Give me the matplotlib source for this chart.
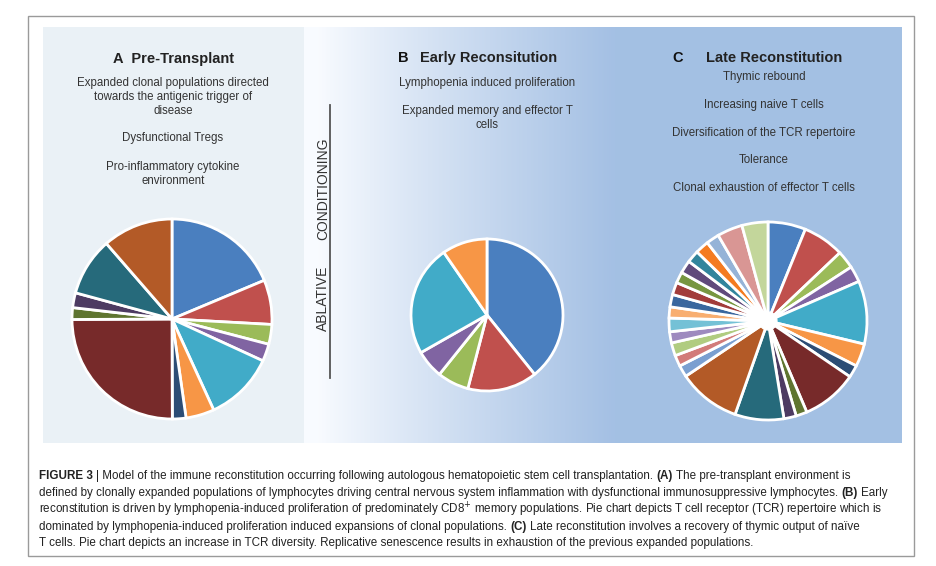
import numpy as np
import matplotlib
matplotlib.use("Agg")
import matplotlib.pyplot as plt
from matplotlib.patches import Rectangle
from matplotlib import font_manager

W, H = 937, 566

# pie data (share of each clone, clockwise from 12 o'clock)
pre_vals = [18.7, 7.2, 3.2, 2.8, 11.3, 4.6, 2.2, 25.0, 1.9, 2.4, 9.4, 11.4]
pre_cols = ['#4a7fbf', '#c0504d', '#9bbb59', '#8064a2', '#41abc8', '#f79646',
            '#2c4d75', '#772a2a', '#5f7530', '#4d3b62', '#266a7b', '#b35a27']

early_vals = [39.2, 14.8, 6.7, 6.0, 23.6, 9.6]
early_cols = ['#4a7fbf', '#c0504d', '#9bbb59', '#8064a2', '#41abc8', '#f79646']

late_vals = [6.1, 6.7, 2.9, 2.6, 10.2, 3.7, 2.0, 9.0, 1.8, 2.0, 7.9, 10.1,
             1.9, 1.8, 2.1, 1.8, 2.2, 1.8, 2.0, 2.0, 1.8, 2.1, 2.0, 2.2,
             2.1, 4.1, 4.2]
late_cols = ['#4a7fbf', '#c0504d', '#9bbb59', '#8064a2', '#41abc8', '#f79646',
             '#2c4d75', '#772a2a', '#5f7530', '#4d3b62', '#266a7b', '#b35a27',
             '#7a9fd0', '#d27b79', '#b0cc80', '#9e8abf', '#74c1d6', '#f8ae70',
             '#3a679e', '#a23c3a', '#779640', '#604a7b', '#31859c', '#f47b20',
             '#95b3d7', '#d99694', '#c3d69b']

pre_lines = ["Expanded clonal populations directed", "towards the antigenic trigger of",
             "disease", "Dysfunctional Tregs", "Pro-inflammatory cytokine", "environment"]
early_lines = ["Lymphopenia induced proliferation", "Expanded memory and effector T", "cells"]
late_lines = ["Thymic rebound", "Increasing naive T cells",
              "Diversification of the TCR repertoire", "Tolerance",
              "Clonal exhaustion of effector T cells"]

caption = [
    [("FIGURE 3", True), ("| Model of the immune reconstitution occurring following autologous hematopoietic stem cell transplantation.", False),
     ("(A)", True), ("The pre-transplant environment is", False)],
    [("defined by clonally expanded populations of lymphocytes driving central nervous system inflammation with dysfunctional immunosuppressive lymphocytes.", False),
     ("(B)", True), ("Early", False)],
    [("reconstitution is driven by lymphopenia-induced proliferation of predominately CD8$^{+}$ memory populations. Pie chart depicts T cell receptor (TCR) repertoire which is", False)],
    [("dominated by lymphopenia-induced proliferation induced expansions of clonal populations.", False),
     ("(C)", True), ("Late reconstitution involves a recovery of thymic output of na\u00efve", False)],
    [("T cells. Pie chart depicts an increase in TCR diversity. Replicative senescence results in exhaustion of the previous expanded populations.", False)],
]

names = {f.name for f in font_manager.fontManager.ttflist}
cap_font = 'Liberation Sans Narrow' if 'Liberation Sans Narrow' in names else 'Liberation Sans'
cap_size = 10.3 if cap_font == 'Liberation Sans Narrow' else 8.4

plt.rcParams['font.family'] = ['Liberation Sans', 'DejaVu Sans']
txt = '#333333'

fig = plt.figure(figsize=(W / 100, H / 100), dpi=100)
fig.patch.set_facecolor('white')
bg = fig.add_axes([0, 0, 1, 1])
bg.set_xlim(0, W)
bg.set_ylim(H, 0)
bg.axis('off')

# panels
bg.add_patch(Rectangle((28, 16), 886, 540, fill=False, edgecolor='#9a9a9a', lw=1.0))
bg.add_patch(Rectangle((43, 27), 261, 416, facecolor='#eaf1f6', edgecolor='none'))
xs = np.linspace(304, 902, 600)
t = np.clip((xs - 318) / (615 - 318), 0, 1) ** 0.9
c0 = np.array([0.975, 0.985, 1.0])
c1 = np.array([0.643, 0.753, 0.894])
grad = (c0[None, :] * (1 - t[:, None]) + c1[None, :] * t[:, None])[None, :, :]
bg.imshow(grad, extent=[304, 902, 443, 27], aspect='auto', interpolation='bilinear', zorder=0.5)
bg.set_xlim(0, W)
bg.set_ylim(H, 0)

# titles
bg.text(173.5, 59, "A  Pre-Transplant", ha='center', va='center', fontsize=10.5, fontweight='bold', color='#222222')
bg.text(398, 58, "B", ha='left', va='center', fontsize=10.5, fontweight='bold', color='#111111')
bg.text(420, 58, "Early Reconsitution", ha='left', va='center', fontsize=10.5, fontweight='bold', color='#222222')
bg.text(672, 58, "C", ha='left', va='center', fontsize=10.5, fontweight='bold', color='#111111')
bg.text(706, 58, "Late Reconstitution", ha='left', va='center', fontsize=10.5, fontweight='bold', color='#222222')

for s, y in zip(pre_lines, [83, 97, 111, 138, 167, 181]):
    bg.text(173, y, s, ha='center', va='center', fontsize=8.3, color=txt)
for s, y in zip(early_lines, [83, 111, 125]):
    bg.text(487, y, s, ha='center', va='center', fontsize=8.3, color=txt)
for s, y in zip(late_lines, [77, 105, 133, 160, 188]):
    bg.text(764, y, s, ha='center', va='center', fontsize=8.3, color=txt)

# ablative conditioning divider
bg.plot([330, 330], [105, 378], color='#555555', lw=1.3)
bg.text(323, 298.5, "ABLATIVE", rotation=90, ha='center', va='center', fontsize=10, color=txt)
bg.text(323, 189, "CONDITIONING", rotation=90, ha='center', va='center', fontsize=10, color=txt)


def pie_at(cx, cy, r, vals, cols, hole=0.0):
    ax = fig.add_axes([(cx - r - 3) / W, 1 - (cy + r + 3) / H, (2 * r + 6) / W, (2 * r + 6) / H])
    ax.pie(vals, colors=cols, startangle=90, counterclock=False, radius=1,
           wedgeprops=dict(edgecolor='white', linewidth=2.0))
    if hole:
        ax.add_patch(plt.Circle((0, 0), hole, color='white', zorder=5))
    lim = (r + 3) / r
    ax.set_xlim(-lim, lim)
    ax.set_ylim(-lim, lim)
    ax.set_aspect('equal')
    ax.axis('off')
    return ax


pie_at(172, 319, 100, pre_vals, pre_cols)
pie_at(487, 315, 76, early_vals, early_cols)
pie_at(768, 321, 99, late_vals, late_cols, hole=0.09)

# caption with mixed bold runs
renderer = fig.canvas.get_renderer()


def width(s, bold):
    tt = bg.text(0, 0, s, fontsize=cap_size, family=[cap_font, 'DejaVu Sans'],
                 fontweight='bold' if bold else 'normal')
    w = tt.get_window_extent(renderer=renderer).width
    tt.remove()
    return w


space = width("x x", False) - width("xx", False)
for line, y in zip(caption, [476, 493, 510, 527, 543]):
    x = 39
    for s, bold in line:
        tt = bg.text(x, y, s, ha='left', va='center', fontsize=cap_size,
                     family=[cap_font, 'DejaVu Sans'], color='#222222',
                     fontweight='bold' if bold else 'normal')
        x += tt.get_window_extent(renderer=renderer).width + space

fig.savefig("out.png", dpi=100)
